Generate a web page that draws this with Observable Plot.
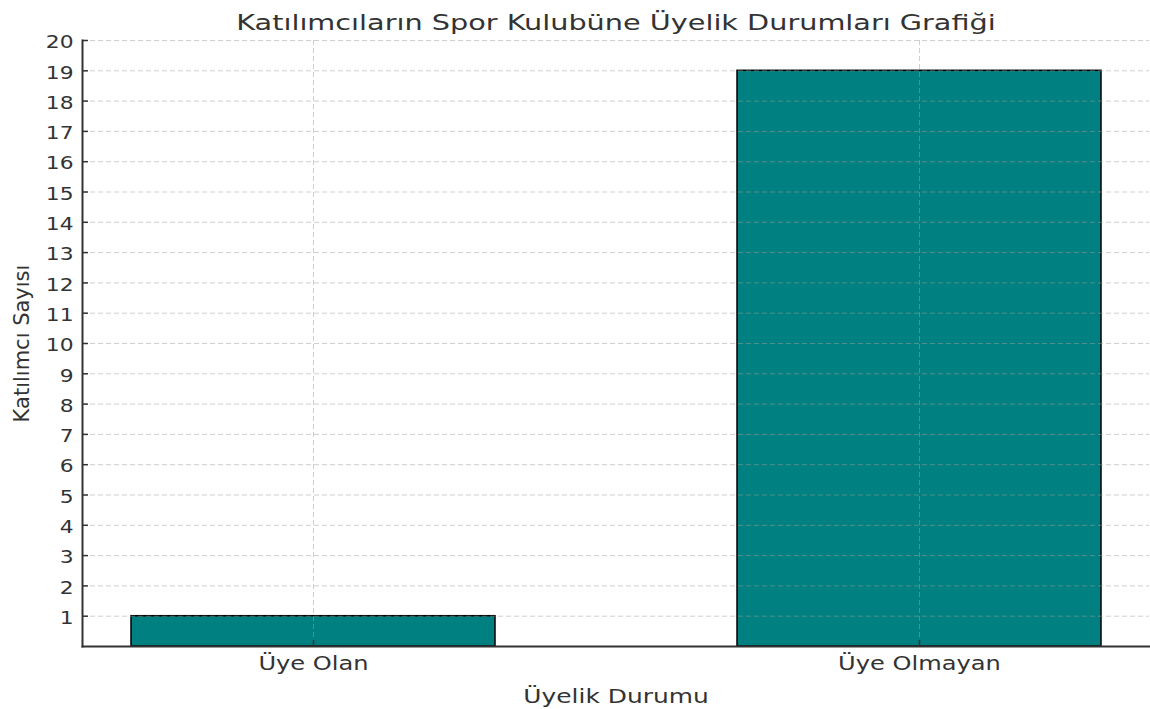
<!DOCTYPE html>
<html>
<head>
<meta charset="utf-8">
<script src="https://cdn.jsdelivr.net/npm/d3@7"></script>
<script src="https://cdn.jsdelivr.net/npm/@observablehq/plot@0.6"></script>
<style>
  html, body { margin: 0; padding: 0; background: #ffffff; }
  #chart { width: 1150px; height: 709px; overflow: hidden; }
</style>
</head>
<body>
<div id="chart"></div>
<script>
// ---- Data ----
const categories = ["Üye Olan", "Üye Olmayan"];
const counts = [1, 19];
const yTicks = [1, 2, 3, 4, 5, 6, 7, 8, 9, 10, 11, 12, 13, 14, 15, 16, 17, 18, 19, 20];
const titleText = "Katılımcıların Spor Kulubüne Üyelik Durumları Grafiği";
const xLabelText = "Üyelik Durumu";
const yLabelText = "Katılımcı Sayısı";

const data = categories.map((c, i) => ({category: c, count: counts[i]}));

const textColor = "#333333";
const gridStyle = {stroke: "#a0a0a0", strokeOpacity: 0.5, strokeDasharray: "5,3", strokeWidth: 1};

const chart = Plot.plot({
  width: 1150,
  height: 709,
  marginLeft: 82,
  marginRight: 1,
  marginTop: 40,
  marginBottom: 63,
  style: {fontFamily: "DejaVu Sans", color: textColor, background: "#ffffff"},
  x: {domain: categories, paddingInner: 0.4, paddingOuter: 0.08},
  y: {domain: [0, 20]},
  marks: [
    Plot.barY(data, {x: "category", y: "count", fill: "#008080", stroke: "#000000", strokeWidth: 1.5}),
    Plot.gridY(yTicks, gridStyle),
    Plot.gridX(categories, gridStyle),
    Plot.tickY(yTicks, {y: d => d, stroke: textColor, strokeWidth: 1.5, insetRight: 1061}),
    Plot.tickX(categories, {x: d => d, stroke: textColor, strokeWidth: 1.5, insetTop: 600}),
    Plot.frame({anchor: "left", stroke: textColor, strokeWidth: 2}),
    Plot.frame({anchor: "bottom", stroke: textColor, strokeWidth: 2}),
    Plot.axisY(yTicks, {tickSize: 0, tickPadding: 9, label: null, fontSize: 18, dy: 2}),
    Plot.axisX(categories, {tickSize: 0, tickPadding: 10, label: null, fontSize: 19}),
    Plot.text([titleText], {text: d => d, frameAnchor: "top", lineAnchor: "bottom", dy: -11, fontSize: 20.5, fill: textColor}),
    Plot.text([xLabelText], {text: d => d, frameAnchor: "bottom", lineAnchor: "bottom", dy: 56, fontSize: 19, fill: textColor}),
    Plot.text([yLabelText], {text: d => d, frameAnchor: "left", textAnchor: "middle", rotate: -90, dx: -60, fontSize: 21, fill: textColor})
  ]
});

document.getElementById("chart").appendChild(chart);

// Horizontal glyph stretch to match the reference's wide lettering
function stretch(selector, factor) {
  chart.querySelectorAll(selector).forEach(t => {
    const w = t.getComputedTextLength();
    if (w > 0) {
      t.setAttribute("textLength", (w * factor).toFixed(2));
      t.setAttribute("lengthAdjust", "spacingAndGlyphs");
    }
  });
}
stretch('g[aria-label="y-axis tick label"] text', 1.21);
stretch('g[aria-label="x-axis tick label"] text', 1.27);
const customTexts = chart.querySelectorAll('g[aria-label="text"] text');
const factors = [1.4, 1.31, 1.0];
customTexts.forEach((t, i) => {
  const w = t.getComputedTextLength();
  const f = factors[i] ?? 1;
  if (w > 0 && f !== 1) {
    t.setAttribute("textLength", (w * f).toFixed(2));
    t.setAttribute("lengthAdjust", "spacingAndGlyphs");
  }
});
</script>
</body>
</html>
